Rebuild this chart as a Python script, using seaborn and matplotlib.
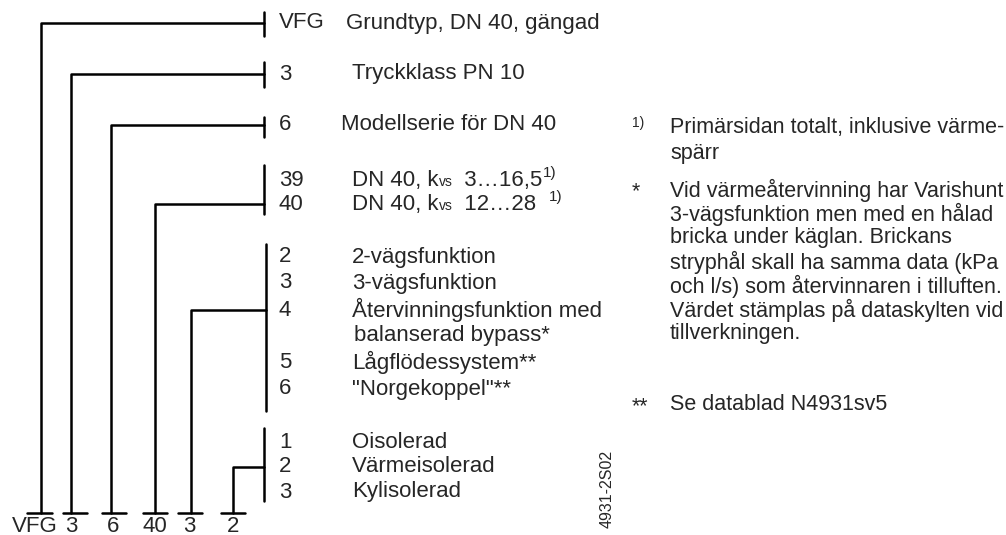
import pandas as pd
import numpy as np
import seaborn as sns
import matplotlib.pyplot as plt

# type code parts, left to right on the bottom line
code_parts = ['VFG', '3', '6', '40', '3', '2']

# option rows per group: (code, description)
group_codes = [
    ['VFG'],
    ['3'],
    ['6'],
    ['39', '40'],
    ['2', '3', '4', '', '5', '6'],
    ['1', '2', '3'],
]
group_texts = [
    ['Grundtyp, DN 40, gängad'],
    ['Tryckklass PN 10'],
    ['Modellserie för DN 40'],
    [('DN 40, k', 'vs', '  3…16,5', '1)'),
     ('DN 40, k', 'vs', '  12…28  ', '1)')],
    ['2-vägsfunktion', '3-vägsfunktion', 'Återvinningsfunktion med',
     'balanserad bypass*', 'Lågflödessystem**', '"Norgekoppel"**'],
    ['Oisolerad', 'Värmeisolerad', 'Kylisolerad'],
]
# which row in each group is the chosen one
chosen_row = [0, 0, 0, 1, 2, 1]

notes_marks = ['1)', '*', '**']
notes_text = [
    ['Primärsidan totalt, inklusive värme-', 'spärr'],
    ['Vid värmeåtervinning har Varishunt', '3-vägsfunktion men med en hålad',
     'bricka under käglan. Brickans', 'stryphål skall ha samma data (kPa',
     'och l/s) som återvinnaren i tilluften.', 'Värdet stämplas på dataskylten vid',
     'tillverkningen.'],
    ['Se datablad N4931sv5'],
]
drawing_no = '4931-2S02'

# layout (pixel coords, y downwards)
col_x = [41.5, 70.7, 110.7, 155, 191, 233]
bar_x = [(26.7, 51.7), (62.7, 87.3), (101.7, 126), (142.7, 166.7), (178, 202), (220.7, 245)]
bracket_x = [264, 264, 264, 264, 266, 264]
bracket_y = [(12, 36), (62, 87), (117, 137), (165, 214), (244, 411), (428, 501)]
row_y = [[23], [74], [125], [180, 204], [257, 283, 310, 336, 362, 389], [442, 467, 492]]
desc_x = [346, 352, 341, 352, 352, 352]
bottom_y = 513
code_x = 279
label_x = [35, 71, 113, 155, 189, 233]
notes_y = [[128, 153], [190, 214, 238, 262, 286, 310, 334], [405]]

sns.set_style('white')
plt.rcParams['font.family'] = ['Liberation Sans', 'DejaVu Sans']

# build polyline segments
segs = []
sid = 0
for i in range(len(code_parts)):
    ly = row_y[i][chosen_row[i]]
    bx = bracket_x[i]
    # leader: from bottom bar up, across to bracket
    for px, py in [(col_x[i], bottom_y), (col_x[i], ly), (bx, ly)]:
        segs.append((sid, px, py))
    sid += 1
    # bracket
    for py in bracket_y[i]:
        segs.append((sid, bx, py))
    sid += 1
    # bottom tee bar
    for px in bar_x[i]:
        segs.append((sid, px, bottom_y))
    sid += 1
df = pd.DataFrame(segs, columns=['seg', 'x', 'y'])

fig = plt.figure(figsize=(10.06, 5.35), dpi=100)
ax = fig.add_axes([0, 0, 1, 1])
sns.lineplot(data=df, x='x', y='y', units='seg', estimator=None, sort=False,
             color='black', lw=1.8, ax=ax, legend=False)
ax.set_xlim(0, 1006)
ax.set_ylim(535, 0)
ax.axis('off')

fs = 16
fs_notes = 15.5
for i in range(len(code_parts)):
    for c, t, y in zip(group_codes[i], group_texts[i], row_y[i]):
        if c:
            ax.text(code_x, y, c, fontsize=fs, va='center', ha='left')
        if isinstance(t, tuple):
            # k with small "vs", value range, footnote mark
            yb = y + 6
            t1 = ax.text(desc_x[i], yb, t[0], fontsize=fs, va='baseline', ha='left')
            t2 = ax.annotate(t[1], xy=(1, yb), xycoords=(t1, 'data'),
                             fontsize=10, va='baseline', ha='left')
            t3 = ax.annotate(t[2], xy=(1, yb), xycoords=(t2, 'data'),
                             fontsize=fs, va='baseline', ha='left')
            ax.annotate(t[3], xy=(1, yb - 9), xycoords=(t3, 'data'),
                        fontsize=11, va='baseline', ha='left')
        else:
            ax.text(desc_x[i] + (2 if not c and i == 4 else 0), y, t, fontsize=fs,
                    va='center', ha='left')
    ax.text(label_x[i], 516, code_parts[i], fontsize=fs, va='top', ha='center')

for m, lines, ys in zip(notes_marks, notes_text, notes_y):
    if m == '1)':
        ax.text(632, ys[0] - 5, m, fontsize=10, va='center', ha='left')
    else:
        ax.text(632, ys[0] + 2, m, fontsize=fs_notes, va='center', ha='left')
    for t, y in zip(lines, ys):
        ax.text(670, y, t, fontsize=fs_notes, va='center', ha='left')

ax.text(607, 489, drawing_no, fontsize=11.5, rotation=90, va='center', ha='center')

fig.savefig('out.png', dpi=100)
